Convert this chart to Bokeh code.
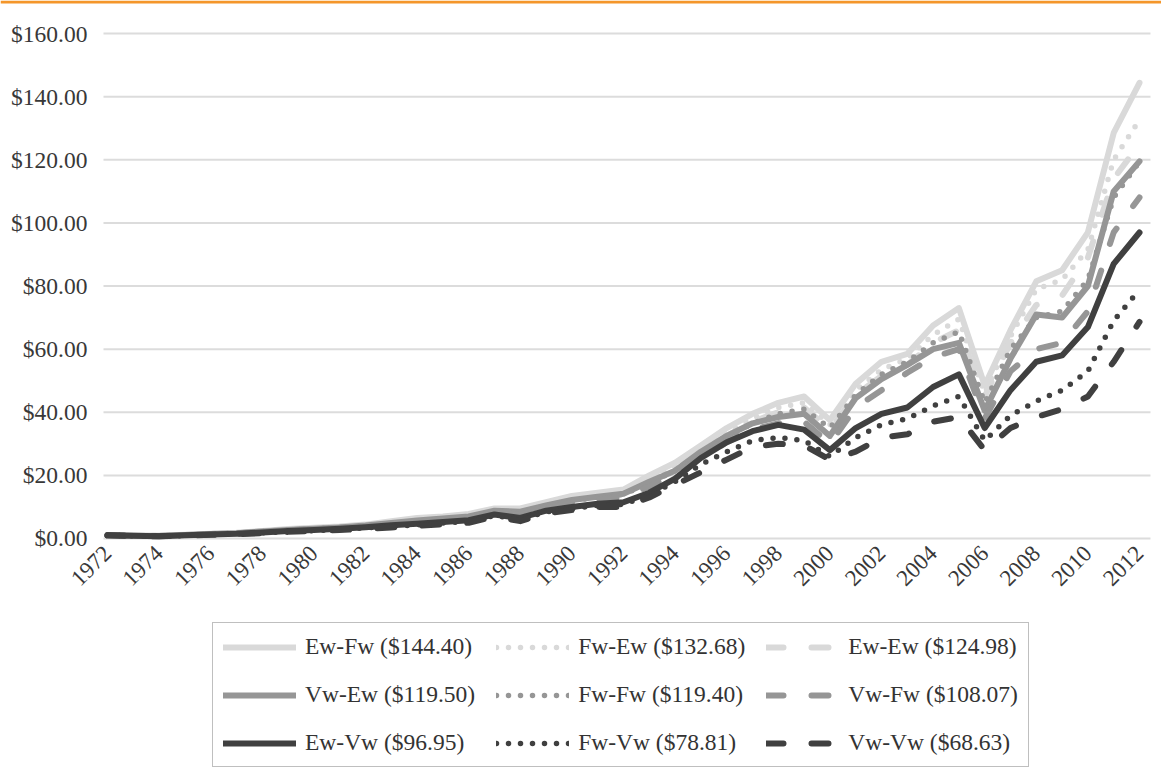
from bokeh.plotting import figure
from bokeh.models import Legend, LegendItem, FixedTicker, NumeralTickFormatter, Range1d, Span
from bokeh.embed import file_html
from bokeh.resources import INLINE
import math

years = list(range(1972, 2013))
tick_years = list(range(1972, 2013, 2))

ew_fw = [1.0, 0.9, 0.85, 1.2, 1.5, 1.8, 2.4, 3.0, 3.4, 3.8,
         4.4, 5.5, 6.5, 7.0, 7.8, 9.5, 9.5, 11.5, 13.5, 14.5,
         15.5, 20.0, 24.0, 29.5, 35.0, 39.5, 43.0, 45.0, 37.5, 49.0,
         56.0, 58.5, 67.5, 73.0, 48.5, 66.0, 81.5, 85.0, 97.0, 128.5,
         144.40]
fw_ew = [1.0, 0.9, 0.85, 1.15, 1.45, 1.75, 2.3, 2.9, 3.3, 3.7,
         4.3, 5.3, 6.2, 6.8, 7.5, 9.2, 9.2, 11.0, 13.0, 14.0,
         15.0, 19.0, 23.0, 28.5, 33.5, 38.0, 41.5, 43.0, 36.0, 47.0,
         53.5, 57.0, 64.5, 69.5, 46.0, 64.0, 79.0, 82.0, 91.5, 120.0,
         132.68]
ew_ew = [1.0, 0.9, 0.85, 1.15, 1.45, 1.7, 2.25, 2.8, 3.2, 3.6,
         4.2, 5.1, 6.0, 6.6, 7.3, 9.0, 9.0, 10.8, 12.7, 13.7,
         14.6, 18.5, 22.0, 27.5, 32.5, 37.0, 40.0, 41.5, 34.5, 45.5,
         51.5, 55.0, 62.0, 66.0, 45.0, 62.0, 74.0, 77.0, 89.0, 114.0,
         124.98]
vw_ew = [1.0, 0.9, 0.8, 1.1, 1.4, 1.65, 2.2, 2.7, 3.1, 3.5,
         4.1, 4.9, 5.7, 6.3, 7.0, 8.8, 8.5, 10.5, 12.2, 13.2,
         14.2, 18.0, 21.5, 27.5, 32.5, 36.5, 38.5, 39.5, 32.5, 44.5,
         50.5, 55.0, 60.0, 62.0, 40.5, 57.0, 71.0, 70.0, 80.0, 110.0,
         119.50]
fw_fw = [1.0, 0.9, 0.8, 1.1, 1.4, 1.65, 2.2, 2.7, 3.1, 3.5,
         4.0, 4.8, 5.6, 6.2, 6.9, 8.6, 8.3, 10.3, 12.0, 13.0,
         14.0, 17.5, 21.5, 27.0, 32.0, 36.5, 39.5, 41.0, 35.0, 45.5,
         52.0, 56.0, 62.0, 65.5, 43.0, 60.0, 70.0, 72.0, 82.0, 108.0,
         119.40]
vw_fw = [1.0, 0.9, 0.8, 1.05, 1.35, 1.6, 2.1, 2.6, 3.0, 3.4,
         3.9, 4.6, 5.3, 5.9, 6.5, 8.2, 7.6, 9.8, 11.3, 12.3,
         13.2, 16.5, 20.5, 25.5, 30.5, 34.5, 36.5, 37.0, 30.0, 41.5,
         47.0, 52.5, 57.5, 60.0, 38.0, 53.0, 60.0, 62.0, 72.0, 97.0,
         108.07]
ew_vw = [1.0, 0.85, 0.75, 1.0, 1.3, 1.5, 1.9, 2.4, 2.7, 3.1,
         3.6, 4.2, 4.7, 5.2, 5.8, 7.6, 6.5, 8.8, 10.0, 11.0,
         11.5, 14.5, 19.0, 25.5, 30.5, 34.0, 36.0, 34.5, 28.0, 35.0,
         39.5, 41.5, 48.0, 52.0, 35.0, 47.0, 56.0, 58.0, 67.0, 87.0,
         96.95]
fw_vw = [1.0, 0.85, 0.75, 0.95, 1.2, 1.4, 1.8, 2.2, 2.5, 2.9,
         3.4, 3.9, 4.3, 4.9, 5.4, 7.3, 6.0, 8.4, 9.5, 10.5,
         10.8, 13.8, 18.0, 23.5, 27.5, 31.0, 32.0, 31.0, 26.0, 32.0,
         36.0, 38.0, 42.0, 45.0, 31.0, 39.0, 43.5, 47.0, 53.0, 69.0,
         78.81]
vw_vw = [1.0, 0.85, 0.7, 0.9, 1.15, 1.35, 1.7, 2.1, 2.4, 2.7,
         3.1, 3.5, 4.0, 4.5, 5.0, 7.0, 5.5, 8.0, 9.0, 10.0,
         10.0, 13.0, 17.0, 21.0, 25.0, 29.0, 30.0, 29.5, 25.0, 27.5,
         32.0, 33.0, 37.0, 38.5, 28.0, 35.0, 38.5, 41.0, 45.0, 56.0,
         68.63]

series_names = ["Ew-Fw ($144.40)", "Fw-Ew ($132.68)", "Ew-Ew ($124.98)",
                "Vw-Ew ($119.50)", "Fw-Fw ($119.40)", "Vw-Fw ($108.07)",
                "Ew-Vw ($96.95)", "Fw-Vw ($78.81)", "Vw-Vw ($68.63)"]
series_values = [ew_fw, fw_ew, ew_ew, vw_ew, fw_fw, vw_fw, ew_vw, fw_vw, vw_vw]
y_ticks = [0, 20, 40, 60, 80, 100, 120, 140, 160]

LIGHT, MID, DARK = "#d9d9d9", "#969696", "#404040"
styles = [
    (LIGHT, "solid"), (LIGHT, "0 12"), (LIGHT, "17 28"),
    (MID, "solid"), (MID, "0 12"), (MID, "17 28"),
    (DARK, "solid"), (DARK, "0 12"), (DARK, "17 28"),
]

FONT = "Liberation Serif"

# the frame covers the whole canvas; gridlines run over the plotting area only
X_START, X_END = 1971.845, 2012.426
W, H = 1161, 774
Y_TOP = 170.47

p = figure(width=W, height=H, output_backend="svg", toolbar_location=None,
           x_range=Range1d(1967.853, 2012.853), y_range=Range1d(-74.78, Y_TOP),
           min_border_left=0, min_border_right=0, min_border_top=0,
           min_border_bottom=0)
p.outline_line_color = None
p.background_fill_color = "white"
p.border_fill_color = "white"

# orange rule along the top edge of the page
p.add_layout(Span(location=Y_TOP - 0.48, dimension="width", line_color="#f4962a",
                  line_width=3))

# horizontal gridlines at the value ticks
p.segment(x0=[X_START] * len(y_ticks), x1=[X_END] * len(y_ticks),
          y0=y_ticks, y1=y_ticks, line_color="#dcdcdc", line_width=2)

items = []
for name, vals, (col, dash) in zip(series_names, series_values, styles):
    if dash == "solid":
        r = p.line(years, vals, line_color=col, line_width=6, line_join="round",
                   line_cap="round")
    else:
        r = p.line(years, vals, line_color=col, line_width=5.5 if dash == "0 12" else 6,
                   line_dash=dash, line_join="round", line_cap="round")
    items.append(LegendItem(label=name, renderers=[r]))

p.xgrid.grid_line_color = None
p.ygrid.grid_line_color = None
p.yaxis.ticker = FixedTicker(ticks=y_ticks)
p.yaxis.formatter = NumeralTickFormatter(format="$0.00")
p.yaxis.fixed_location = X_START
p.xaxis.ticker = FixedTicker(ticks=tick_years)
p.xaxis.fixed_location = 0

for ax in (p.xaxis, p.yaxis):
    ax.axis_line_color = None
    ax.major_tick_line_color = None
    ax.minor_tick_line_color = None
    ax.major_label_text_font = FONT
    ax.major_label_text_color = "#383838"
p.yaxis.major_label_text_font_size = "23.5px"
p.yaxis.major_label_standoff = 10
p.xaxis.major_label_text_font_size = "23px"
p.xaxis.major_label_orientation = math.pi / 4
p.xaxis.major_label_standoff = 5

legend = Legend(items=items, location=(212, 7), orientation="horizontal", ncols=3,
                label_text_font=FONT, label_text_font_size="23.5px",
                label_text_color="#333333", glyph_width=73, glyph_height=24,
                label_height=24, label_standoff=9, spacing=21, padding=10,
                border_line_color="#808080", border_line_width=1.5,
                background_fill_color="white", background_fill_alpha=1.0, margin=0)
p.add_layout(legend)

open("out.html", "w").write(file_html(p, INLINE))
